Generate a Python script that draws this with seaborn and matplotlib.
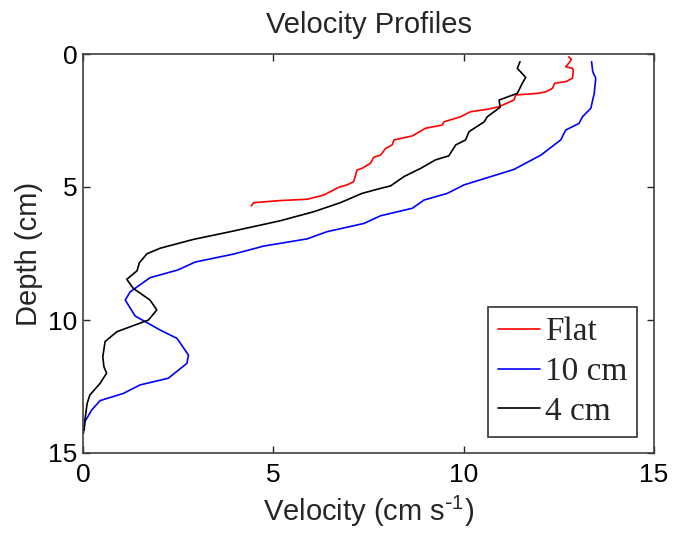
import numpy as np
import pandas as pd
import matplotlib
matplotlib.use("Agg")
import matplotlib.pyplot as plt
import seaborn as sns

# ---- data ----
flat_velocity = [12.76, 12.83, 12.77, 12.68, 12.86, 12.88, 12.86, 12.68, 12.39, 12.33,
                 12.16, 11.94, 11.37, 11.32, 10.93, 10.62, 10.18, 9.92, 9.48, 9.44,
                 9.00, 8.65, 8.17, 8.12, 7.95, 7.82, 7.64, 7.55, 7.33, 7.20,
                 7.11, 6.94, 6.72, 6.33, 5.89, 5.18, 4.48, 4.42]
flat_depth = [0.11, 0.20, 0.33, 0.48, 0.54, 0.63, 0.91, 1.04, 1.10, 1.29,
              1.42, 1.48, 1.54, 1.73, 1.98, 2.08, 2.17, 2.36, 2.55, 2.67,
              2.79, 3.08, 3.23, 3.42, 3.55, 3.80, 3.88, 4.11, 4.30, 4.36,
              4.80, 4.92, 5.01, 5.30, 5.46, 5.51, 5.59, 5.71]

cm10_velocity = [13.36, 13.39, 13.47, 13.43, 13.34, 13.12, 13.03, 12.68, 12.55, 12.03,
                 11.32, 10.71, 10.01, 9.57, 8.96, 8.65, 7.82, 7.38, 6.41, 5.89,
                 4.75, 3.96, 2.95, 2.49, 1.76, 1.24, 1.11, 1.37, 2.03, 2.47,
                 2.77, 2.73, 2.24, 1.50, 1.06, 0.45, 0.23, 0.05, 0.01]
cm10_depth = [0.29, 0.66, 0.91, 1.48, 2.04, 2.36, 2.61, 2.86, 3.23, 3.80,
              4.34, 4.61, 4.92, 5.24, 5.49, 5.80, 6.08, 6.37, 6.68, 6.95,
              7.22, 7.52, 7.82, 8.12, 8.41, 8.94, 9.25, 9.85, 10.38, 10.69,
              11.32, 11.63, 12.19, 12.44, 12.76, 13.03, 13.38, 13.82, 14.26]

cm4_velocity = [11.48, 11.41, 11.63, 11.54, 11.41, 10.93, 10.96, 10.62, 10.54, 10.14,
                10.05, 9.79, 9.61, 9.26, 8.87, 8.43, 8.08, 7.82, 7.33, 6.76,
                6.06, 5.18, 3.87, 2.90, 2.03, 1.68, 1.48, 1.42, 1.15, 1.32,
                1.76, 1.94, 1.72, 0.89, 0.58, 0.52, 0.55, 0.62, 0.45, 0.18,
                0.11, 0.05, 0.03]
cm4_depth = [0.29, 0.54, 0.88, 1.10, 1.48, 1.73, 2.00, 2.36, 2.55, 2.92,
             3.23, 3.42, 3.83, 3.98, 4.30, 4.61, 4.96, 5.05, 5.24, 5.59,
             5.93, 6.27, 6.68, 6.97, 7.30, 7.51, 7.85, 8.15, 8.47, 8.81,
             9.25, 9.62, 10.00, 10.44, 10.81, 11.38, 11.76, 12.00, 12.38, 12.82,
             13.13, 13.76, 14.14]

series_names = ["Flat", "10 cm", "4 cm"]
series_colors = ["#ff0000", "#0000ff", "#000000"]
ticks = [0, 5, 10, 15]

frames = []
for name, v, d in [("Flat", flat_velocity, flat_depth),
                   ("10 cm", cm10_velocity, cm10_depth),
                   ("4 cm", cm4_velocity, cm4_depth)]:
    frames.append(pd.DataFrame({"velocity": v, "depth": d, "series": name}))
df = pd.concat(frames, ignore_index=True)

sns.set_style("ticks")
plt.rcParams["font.family"] = ["Liberation Sans", "DejaVu Sans"]
plt.rcParams["mathtext.default"] = "regular"

fig = plt.figure(figsize=(6.74, 5.35), dpi=100)
ax = fig.add_axes([83 / 674, 1 - 453 / 535, (654 - 83) / 674, (453 - 54) / 535])

sns.lineplot(data=df, x="velocity", y="depth", hue="series",
             hue_order=series_names, palette=series_colors,
             estimator=None, sort=False, orient="y", linewidth=1.2,
             ax=ax, legend=False)

ax.set_xlim(0, 15)
ax.set_ylim(15, 0)
ax.set_xticks(ticks)
ax.set_yticks(ticks)
ax.tick_params(direction="in", length=5, width=1, colors="#262626",
               labelcolor="black", labelsize=19, top=True, right=True)
ax.tick_params(axis="x", pad=7)
ax.tick_params(axis="y", pad=4)
for s in ax.spines.values():
    s.set_visible(True)
    s.set_color("#404040")
    s.set_linewidth(1.2)

ax.set_title("Velocity Profiles", fontsize=21, pad=15)
ax.set_xlabel(r"Velocity (cm s$^{\text{-}1}$)", fontsize=21, labelpad=5)
ax.set_ylabel("Depth (cm)", fontsize=21, labelpad=4)

handles = [plt.Line2D([], [], color=c, lw=1.2) for c in series_colors]
leg = ax.legend(handles, series_names, loc="lower right",
                bbox_to_anchor=(637 / 674, 1 - 437 / 535),
                bbox_transform=fig.transFigure, borderaxespad=0,
                prop={"family": "Liberation Serif", "size": 24},
                frameon=True, fancybox=False, framealpha=1,
                edgecolor="#333333", handlelength=1.25, handletextpad=0.15,
                labelspacing=0.28, borderpad=0.3)
leg.get_frame().set_linewidth(1.2)

fig.savefig("out.png", dpi=100)
